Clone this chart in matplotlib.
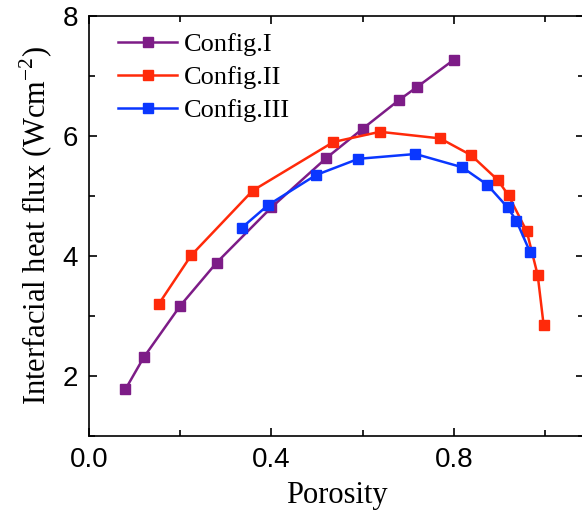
import matplotlib
matplotlib.use("Agg")
import matplotlib.pyplot as plt
from matplotlib.ticker import MultipleLocator

# porosity / interfacial heat flux
por_1 = [0.08, 0.12, 0.20, 0.28, 0.40, 0.52, 0.60, 0.68, 0.72, 0.80]
flux_1 = [1.78, 2.31, 3.17, 3.89, 4.81, 5.63, 6.12, 6.60, 6.82, 7.27]

por_2 = [0.153, 0.224, 0.359, 0.536, 0.638, 0.770, 0.838, 0.896, 0.920, 0.960, 0.984, 0.997]
flux_2 = [3.20, 4.01, 5.09, 5.90, 6.07, 5.96, 5.68, 5.27, 5.01, 4.41, 3.68, 2.85]

por_3 = [0.335, 0.393, 0.498, 0.591, 0.716, 0.818, 0.873, 0.918, 0.937, 0.967]
flux_3 = [4.47, 4.85, 5.35, 5.62, 5.70, 5.48, 5.19, 4.81, 4.59, 4.07]

labels = ["Config.I", "Config.II", "Config.III"]
colors = ["#7d1c87", "#ff2a0a", "#0a37ff"]

W, H = 582, 512
fig = plt.figure(figsize=(W / 100, H / 100), dpi=100)
left, right, top, bottom = 89, 584, 16, 436
ax = fig.add_axes([left / W, 1 - bottom / H, (right - left) / W, (bottom - top) / H])

for x, y, lab, c in zip([por_1, por_2, por_3], [flux_1, flux_2, flux_3], labels, colors):
    ax.plot(x, y, "-s", color=c, lw=1.8, ms=6.5, label=lab)

ax.set_xlim(0, (right - left) / 456)
ax.set_ylim(1, 8)
ax.xaxis.set_major_locator(MultipleLocator(0.4))
ax.xaxis.set_minor_locator(MultipleLocator(0.2))
ax.yaxis.set_major_locator(MultipleLocator(2))
ax.yaxis.set_minor_locator(MultipleLocator(1))
ax.xaxis.set_major_formatter(plt.FormatStrFormatter("%.1f"))
ax.yaxis.set_major_formatter(plt.FormatStrFormatter("%d"))

ax.tick_params(which="both", direction="in", top=True, right=True, width=1.2)
ax.tick_params(which="major", length=6, labelsize=20, pad=8)
ax.tick_params(which="minor", length=4)
for lbl in ax.get_xticklabels() + ax.get_yticklabels():
    lbl.set_fontfamily("Liberation Sans")
for s in ax.spines.values():
    s.set_linewidth(1.2)

serif = {"family": "Liberation Serif", "size": 22}
ax.set_xlabel("Porosity", fontdict=serif, labelpad=5.5)
ax.set_ylabel(r"Interfacial heat flux (Wcm$^{\mathregular{-2}}$)", fontdict=serif, labelpad=5)

ax.legend(loc="upper left", frameon=False, handlelength=2.25, handletextpad=0.25,
          labelspacing=0.35, borderaxespad=0.4, bbox_to_anchor=(0.016, 1.01),
          prop={"family": "Liberation Serif", "size": 19})

fig.savefig("out.png", dpi=100)
